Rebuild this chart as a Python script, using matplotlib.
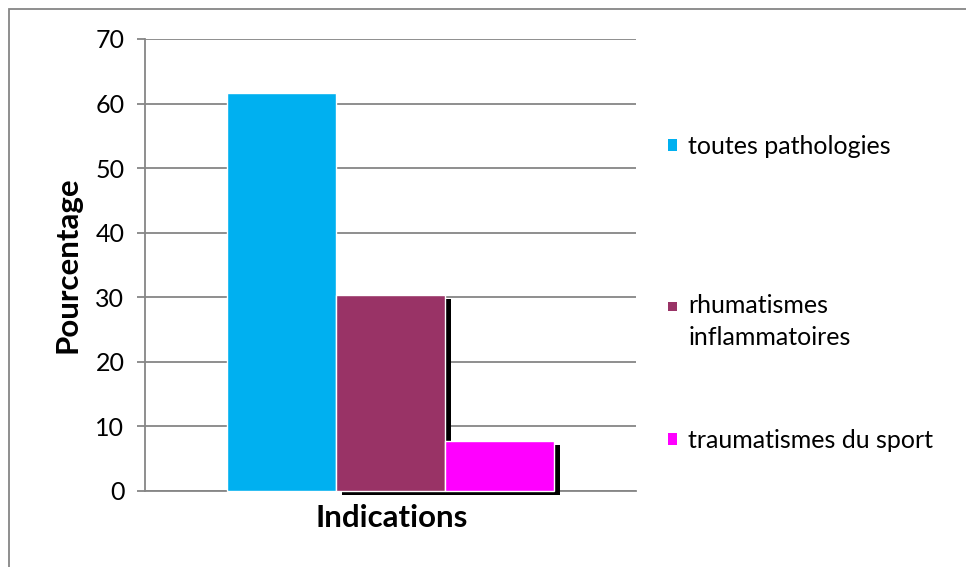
import matplotlib
matplotlib.use("Agg")
import matplotlib.pyplot as plt
from matplotlib.patches import Rectangle
from matplotlib.legend_handler import HandlerPatch
import matplotlib.patheffects as pe

categories = ["toutes pathologies", "rhumatismes\ninflammatoires", "traumatismes du sport"]
values = [61.7, 30.3, 7.7]
colors = ["#00B0F0", "#993366", "#FF00FF"]
yticks = [0, 10, 20, 30, 40, 50, 60, 70]

plt.rcParams['font.family'] = ['Lato', 'DejaVu Sans']

W, H = 966, 567
fig = plt.figure(figsize=(W / 100, H / 100), dpi=100)
ax = fig.add_axes([145 / W, 1 - 491 / H, (636 - 145) / W, (491 - 39) / H])

bw = 109.3 / 491
offsets = [-bw, 0, bw]
for i, (lab, v, c) in enumerate(zip(categories, values, colors)):
    if i == 0:
        effects = [pe.SimplePatchShadow(offset=(1, -1), shadow_rgbFace='#c8c8c8', alpha=1.0), pe.Normal()]
    else:
        effects = [pe.SimplePatchShadow(offset=(4.3, -2.6), shadow_rgbFace='black', alpha=1.0), pe.Normal()]
    b = ax.bar(offsets[i], v, width=bw, color=c, edgecolor='white', linewidth=1.0,
               label=lab, zorder=3 + i * 0.1)
    for p in b.patches:
        p.set_path_effects(effects)
        p.set_clip_on(False)

ax.set_xlim(-0.5, 0.5)
ax.set_ylim(0, 70)
ax.set_yticks(yticks)
ax.set_yticklabels([str(t) for t in yticks], fontsize=18)
ax.set_xticks([])
ax.yaxis.grid(True, color='#868686', linewidth=1.3)
ax.set_axisbelow(True)
for s in ['top', 'right']:
    ax.spines[s].set_visible(False)
for s in ['left', 'bottom']:
    ax.spines[s].set_color('#868686')
    ax.spines[s].set_linewidth(1.3)
ax.tick_params(axis='y', direction='out', length=5.8, width=1.3, color='#868686', pad=9)
ax.set_ylabel("Pourcentage", fontsize=22.5, fontweight='bold', va='center')
ax.yaxis.set_label_coords((68 - 145) / 491, 0.5)
ax.set_xlabel("Indications", fontsize=22.5, fontweight='bold', va='center')
ax.xaxis.set_label_coords((391.5 - 145) / 491, (491 - 518) / 452)


def top_square(legend, orig_handle, xdescent, ydescent, width, height, fontsize):
    return Rectangle((-xdescent, -ydescent + height - width), width, width)


legend_y = [146, 321.5, 440]
for lab, c, y in zip(categories, colors, legend_y):
    proxy = Rectangle((0, 0), 1, 1, facecolor=c, edgecolor='none')
    multi = "\n" in lab
    hm = {Rectangle: HandlerPatch(patch_func=top_square)} if multi else None
    leg = fig.legend(handles=[proxy], labels=[lab], loc='center left',
                     bbox_to_anchor=(668 / W, 1 - y / H), frameon=False,
                     fontsize=18, handlelength=0.36, handleheight=(2.3 if multi else 0.36),
                     handletextpad=0.45, borderaxespad=0, borderpad=0,
                     handler_map=hm)
    if multi:
        leg.get_texts()[0].set_linespacing(1.49)

fig.patches.append(Rectangle((9 / W, -0.1), 1.2, 1 - 9 / H + 0.1, transform=fig.transFigure,
                             fill=False, edgecolor='#868686', linewidth=1.3))

fig.savefig("out.png", dpi=100)
